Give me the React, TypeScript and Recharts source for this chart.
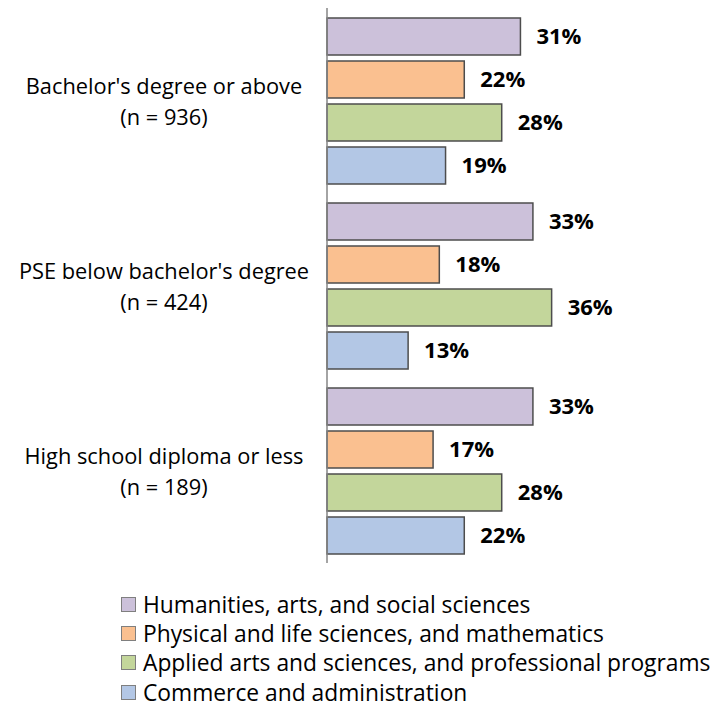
import { Bar, BarChart, LabelList, XAxis, YAxis } from "recharts";

const groups = ["Bachelor's degree or above", "PSE below bachelor's degree", "High school diploma or less"];
const groupCounts = ["(n = 936)", "(n = 424)", "(n = 189)"];

const humanities = [31, 33, 33];
const physical = [22, 18, 17];
const applied = [28, 36, 28];
const commerce = [19, 13, 22];

const seriesNames = [
  "Humanities, arts, and social sciences",
  "Physical and life sciences, and mathematics",
  "Applied arts and sciences, and professional programs",
  "Commerce and administration",
];
const seriesColors = ["#ccc1da", "#fac090", "#c3d69b", "#b3c7e5"];
const seriesKeys = ["hum", "phy", "app", "com"];

const data = groups.map((g, i) => ({
  group: g,
  hum: humanities[i],
  phy: physical[i],
  app: applied[i],
  com: commerce[i],
}));

const font = "'Open Sans', Lato, sans-serif";

function GroupTick({ y, payload, index }: any) {
  return (
    <text x={164} y={y} textAnchor="middle" fontFamily={font} fontSize={21.8} fill="#000">
      <tspan x={164} dy={-7}>{payload.value}</tspan>
      <tspan x={164} dy={31}>{groupCounts[index]}</tspan>
    </text>
  );
}

function LegendList() {
  return (
    <div style={{ position: "absolute", left: 121, top: 590, fontFamily: font, fontSize: 22.8, color: "#000" }}>
      {seriesNames.map((name, i) => (
        <div key={name} style={{ display: "flex", alignItems: "center", height: 29.2, whiteSpace: "nowrap" }}>
          <span
            style={{
              display: "inline-block",
              width: 13,
              height: 13,
              background: seriesColors[i],
              border: "1.5px solid #7f7f7f",
              marginRight: 7,
            }}
          />
          <span>{name}</span>
        </div>
      ))}
    </div>
  );
}

export default function App() {
  return (
    <div style={{ position: "absolute", left: 0, top: 0, width: 721, height: 711, background: "#fff" }}>
      <BarChart
        width={721}
        height={711}
        data={data}
        layout="vertical"
        margin={{ top: 8, right: 82, bottom: 148, left: 0 }}
        barCategoryGap={10}
        barGap={6}
      >
        <XAxis type="number" domain={[0, 50]} hide />
        <YAxis
          type="category"
          dataKey="group"
          width={327}
          axisLine={{ stroke: "#868686", strokeWidth: 1.5 }}
          tickLine={false}
          tick={<GroupTick />}
        />
        {seriesKeys.map((k, i) => (
          <Bar
            key={k}
            dataKey={k}
            name={seriesNames[i]}
            fill={seriesColors[i]}
            stroke="#4d4d4d"
            strokeWidth={1.5}
            isAnimationActive={false}
          >
            <LabelList
              dataKey={k}
              position="right"
              offset={16}
              formatter={(v: any) => `${v}%`}
              style={{ fontFamily: font, fontSize: 22, fontWeight: 700, fill: "#000" }}
            />
          </Bar>
        ))}
      </BarChart>
      <LegendList />
    </div>
  );
}
